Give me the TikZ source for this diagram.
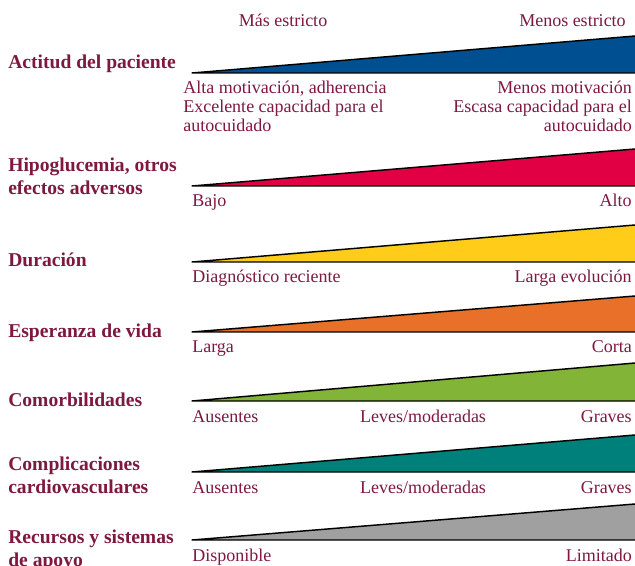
\documentclass[tikz,border=0pt]{standalone}
\usepackage{fontspec}
\setmainfont{Liberation Serif}
\definecolor{granate}{RGB}{125,25,62}
\definecolor{azul}{RGB}{0,80,145}
\definecolor{rojo}{RGB}{226,0,68}
\definecolor{amarillo}{RGB}{255,204,26}
\definecolor{naranja}{RGB}{232,112,40}
\definecolor{verde}{RGB}{130,180,56}
\definecolor{turquesa}{RGB}{0,128,122}
\definecolor{gris}{RGB}{160,160,160}
\tikzset{
	etiqueta/.style={text=granate, font=\fontsize{13.5}{14.25}\selectfont},
	titulo/.style={text=granate, anchor=base west, align=left, font=\fontsize{14.7}{17.25}\selectfont\bfseries},
	cuna/.style={draw=black, line width=1.1pt, line join=round},
}
\begin{document}
\begin{tikzpicture}[x=0.75pt,y=-0.75pt]
	\tikzstyle{every node}+=[inner sep=0pt]
	\useasboundingbox (0,0) rectangle (635,566);
	\draw (283,27) node [etiqueta, anchor=base] (mas) {Más estricto};
	\draw (626,27) node [etiqueta, anchor=base east] (menos) {Menos estricto};

	\draw (8,69) node [titulo] (actitud) {Actitud del paciente};
	\fill [azul] (192,73) -- (635,36) -- (635,73) -- cycle;
	\draw [cuna] (635,36) -- (192,73) -- (635,73);
	\draw (183,132) node [etiqueta, anchor=base west, align=left] (actitudA) {Alta motivación, adherencia\\Excelente capacidad para el\\autocuidado};
	\draw (632,132) node [etiqueta, anchor=base east, align=right] (actitudB) {Menos motivación\\Escasa capacidad para el\\autocuidado};

	\draw (8,195) node [titulo] (hipo) {Hipoglucemia, otros\\efectos adversos};
	\fill [rojo] (192,186) -- (635,149) -- (635,186) -- cycle;
	\draw [cuna] (635,149) -- (192,186) -- (635,186);
	\draw (192,207) node [etiqueta, anchor=base west] (hipoA) {Bajo};
	\draw (632,207) node [etiqueta, anchor=base east] (hipoB) {Alto};

	\draw (8,267) node [titulo] (duracion) {Duración};
	\fill [amarillo] (192,262) -- (635,225) -- (635,262) -- cycle;
	\draw [cuna] (635,225) -- (192,262) -- (635,262);
	\draw (192,283) node [etiqueta, anchor=base west] (duracionA) {Diagnóstico reciente};
	\draw (632,283) node [etiqueta, anchor=base east] (duracionB) {Larga evolución};

	\draw (8,338) node [titulo] (esperanza) {Esperanza de vida};
	\fill [naranja] (192,332) -- (635,296) -- (635,332) -- cycle;
	\draw [cuna] (635,296) -- (192,332) -- (635,332);
	\draw (192,353) node [etiqueta, anchor=base west] (esperanzaA) {Larga};
	\draw (632,353) node [etiqueta, anchor=base east] (esperanzaB) {Corta};

	\draw (8,406) node [titulo] (comorb) {Comorbilidades};
	\fill [verde] (192,401) -- (635,363) -- (635,401) -- cycle;
	\draw [cuna] (635,363) -- (192,401) -- (635,401);
	\draw (192,422) node [etiqueta, anchor=base west] (comorbA) {Ausentes};
	\draw (423,422) node [etiqueta, anchor=base] (comorbB) {Leves/moderadas};
	\draw (632,422) node [etiqueta, anchor=base east] (comorbC) {Graves};

	\draw (8,493) node [titulo] (complic) {Complicaciones\\cardiovasculares};
	\fill [turquesa] (192,472) -- (635,435) -- (635,472) -- cycle;
	\draw [cuna] (635,435) -- (192,472) -- (635,472);
	\draw (192,493) node [etiqueta, anchor=base west] (complicA) {Ausentes};
	\draw (423,493) node [etiqueta, anchor=base] (complicB) {Leves/moderadas};
	\draw (632,493) node [etiqueta, anchor=base east] (complicC) {Graves};

	\draw (8,566) node [titulo] (recursos) {Recursos y sistemas\\de apoyo};
	\fill [gris] (192,540) -- (635,504) -- (635,540) -- cycle;
	\draw [cuna] (635,504) -- (192,540) -- (635,540);
	\draw (192,561) node [etiqueta, anchor=base west] (recursosA) {Disponible};
	\draw (632,561) node [etiqueta, anchor=base east] (recursosB) {Limitado};
\end{tikzpicture}
\end{document}
